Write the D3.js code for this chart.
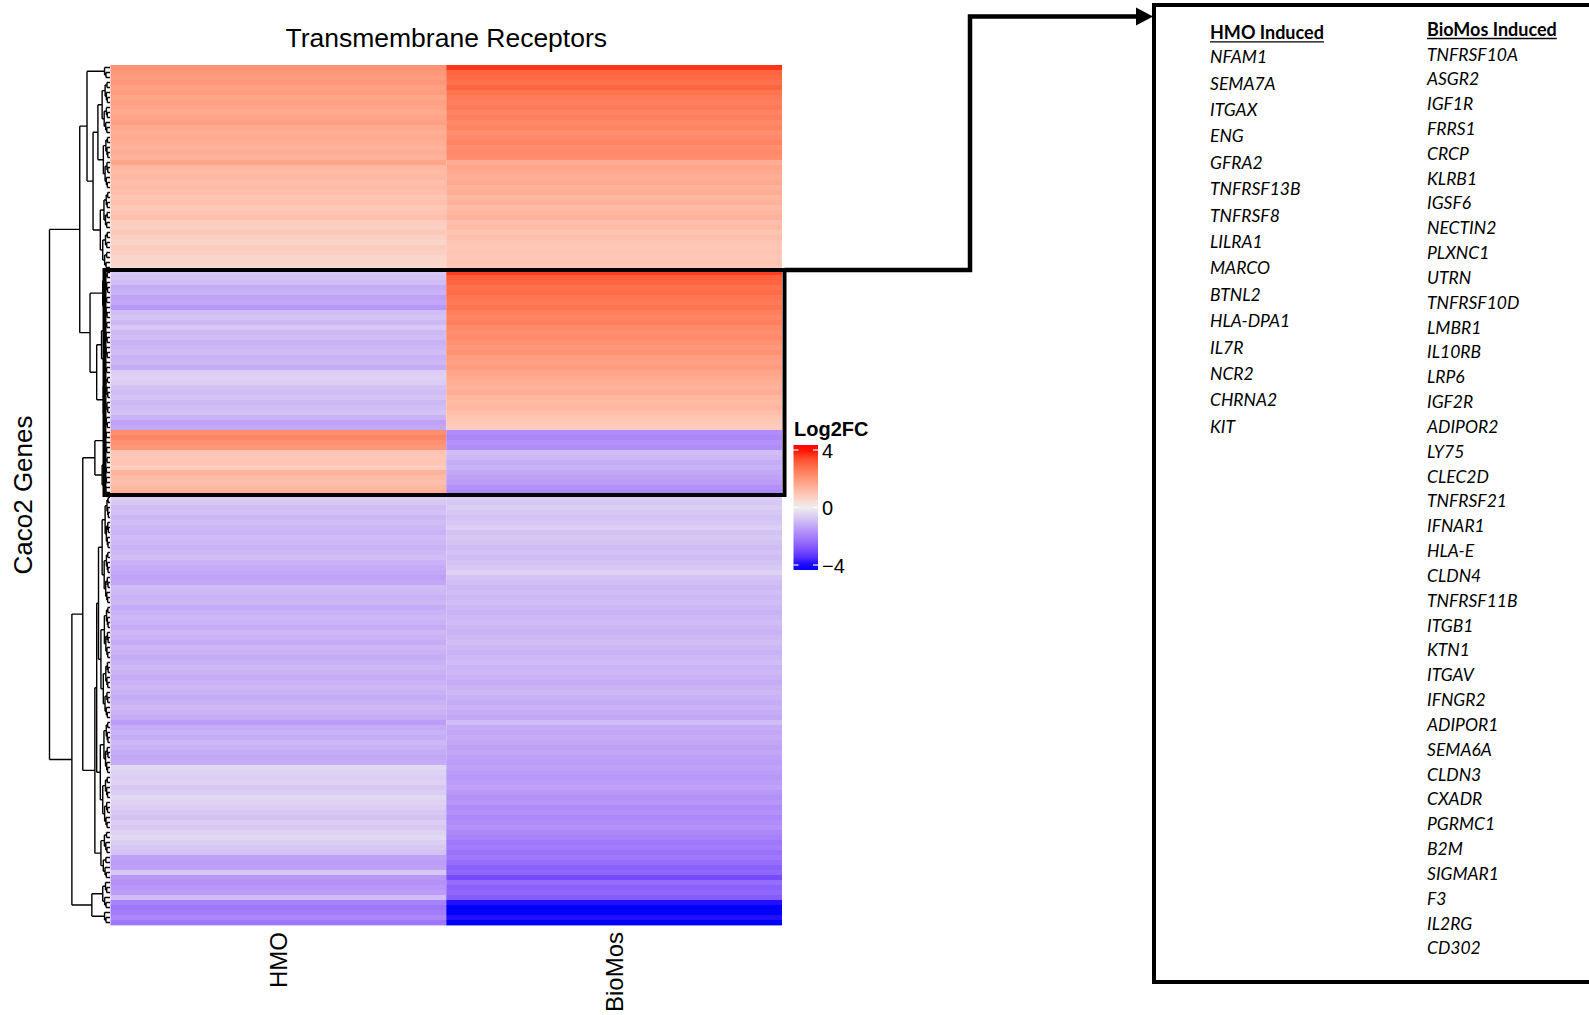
<!DOCTYPE html>
<html>
<head>
<meta charset="utf-8">
<script src="https://cdn.jsdelivr.net/npm/d3@7"></script>
<style>
  body { margin: 0; background: #fff; }
  svg { display: block; }
</style>
</head>
<body>
<div id="container"></div>
<script>
// columns of the heatmap
const samples = ['HMO', 'BioMos'];

// log2 fold change per gene row (top to bottom, dendrogram order)
const hmoValues = [
  // upper red cluster
  2.1, 2.0, 1.9, 2.0, 1.8, 1.9, 1.7,
  1.8, 1.7, 1.6, 1.7, 1.8, 1.6, 1.5, 1.6, 1.5, 1.4, 1.5, 1.4,
  1.7, 1.3, 1.2, 1.3, 1.1, 1.2, 1.1, 1.0, 1.1, 0.9, 1.0, 1.1,
  0.8, 0.7, 0.9, 0.7, 0.6, 0.8, 0.7, 0.6, 0.6, 0.5,
  // boxed: BioMos induced
  -0.7, -0.8, -0.9, -1.2, -1.1, -1.4, -1.3, -1.6, -0.9, -0.8,
  -1.0, -0.7, -1.0, -0.9, -1.1, -1.0, -0.9, -1.1, -1.0, -1.2,
  -0.6, -0.5, -0.6, -0.8, -0.9, -0.8, -1.0, -0.9, -0.8, -1.1, -1.4, -1.3,
  // boxed: HMO induced
  2.2, 2.4, 2.1, 2.0, 1.0, 0.9, 1.0, 0.8, 1.4, 1.2, 1.1, 1.3, 1.5,
  // lower purple cluster
  -0.6, -0.7, -0.9, -0.8, -1.0, -0.9, -1.0, -1.1, -0.9, -1.0,
  -1.1, -1.0, -0.9, -1.1, -1.2, -1.3, -1.4, -1.3, -0.9, -1.0,
  -1.1, -1.0, -1.2, -1.1, -1.0, -1.1, -1.2, -1.0, -1.1, -1.2,
  -1.0, -1.1, -1.2, -1.1, -1.0, -1.1, -1.2, -1.1, -1.0, -1.1,
  -1.2, -1.1, -1.0, -1.1, -1.2, -1.5, -1.2, -1.1, -1.2, -1.0,
  -1.1, -1.2, -1.3, -1.2, -0.4, -0.5, -0.6, -0.5, -0.7, -0.6,
  -0.4, -0.5, -0.6, -0.7, -0.8, -0.6, -0.7, -0.5, -0.4, -0.6,
  -0.7, -0.8, -1.4, -1.5, -1.4, -0.7, -1.6, -1.7, -1.6, -1.5,
  -0.9, -2.0, -2.2, -2.1, -1.9, -2.2
];

const biomosValues = [
  3.7, 3.0, 2.9, 2.8, 3.0, 2.7, 2.6,
  2.5, 2.6, 2.4, 2.5, 2.3, 2.4, 2.2, 2.3, 2.4, 2.2, 2.3, 2.2,
  1.5, 1.7, 1.6, 1.5, 1.6, 1.4, 1.5, 1.3, 1.4, 1.2, 1.3, 1.4,
  1.1, 1.2, 1.0, 1.1, 1.0, 0.9, 1.0, 0.9, 1.0, 0.9,
  3.6, 3.1, 3.0, 2.8, 2.9, 2.7, 2.6, 2.7, 2.5, 2.4,
  2.5, 2.3, 2.2, 2.3, 2.1, 2.0, 2.1, 1.9, 1.8, 1.9,
  1.7, 1.6, 1.5, 1.4, 1.5, 1.3, 1.2, 1.3, 1.1, 1.0, 0.9, 0.8,
  -1.8, -1.9, -1.7, -1.8, -0.9, -1.0, -1.2, -1.1, -1.3, -1.4, -1.5, -1.7, -1.9,
  -0.6, -0.7, -0.6, -0.7, -0.8, -0.7, -0.6, -0.8, -0.7, -0.8,
  -0.9, -0.8, -0.9, -0.8, -0.7, -0.5, -0.8, -0.9, -1.0, -0.9,
  -1.0, -0.9, -1.0, -1.1, -1.0, -0.9, -1.0, -1.1, -1.0, -0.9,
  -1.0, -1.1, -1.0, -0.9, -1.1, -1.0, -1.1, -1.2, -1.1, -1.0,
  -1.1, -1.2, -1.1, -1.2, -1.3, -0.9, -1.2, -1.3, -1.2, -1.3,
  -1.4, -1.3, -1.4, -1.5, -1.4, -1.5, -1.6, -1.5, -1.4, -1.6,
  -1.7, -1.6, -1.8, -1.7, -1.9, -1.8, -1.7, -1.9, -2.0, -2.2,
  -2.1, -2.3, -2.2, -2.4, -2.6, -2.5, -3.0, -2.4, -2.6, -2.5,
  -2.7, -3.9, -4.0, -4.0, -3.9, -4.0
];

// row clustering: h = merge height, c = sub-clusters, n = rows in a tight leaf cluster
const rowTree = {h: 10, c: [
  {h: 5.0, c: [
    {h: 3.8, c: [
      {h: 0.9, n: 3},
      {h: 2.8, c: [
        {h: 2.0, c: [{h: 1.3, n: 11}, {h: 1.1, n: 11}]},
        {h: 1.6, c: [{h: 1.0, n: 8}, {h: 1.2, n: 8}]}
      ]}
    ]},
    {h: 3.3, c: [
      {h: 1.2, n: 10},
      {h: 2.2, c: [{h: 1.4, n: 11}, {h: 1.1, n: 11}]}
    ]}
  ]},
  {h: 6.3, c: [
    {h: 4.5, c: [
      {h: 2.5, c: [{h: 1.0, n: 5}, {h: 1.3, n: 8}]},
      {h: 2.5, c: [
        {h: 2.2, c: [
          {h: 1.9, c: [{h: 1.3, n: 22}, {h: 1.5, n: 23}]},
          {h: 1.6, c: [{h: 1.0, n: 11}, {h: 1.2, n: 11}]}
        ]},
        {h: 1.5, n: 10}
      ]}
    ]},
    {h: 3.0, c: [{h: 1.2, n: 6}, {h: 0.9, n: 3}]}
  ]}
]};

const hmoGenes = ['NFAM1', 'SEMA7A', 'ITGAX', 'ENG', 'GFRA2', 'TNFRSF13B', 'TNFRSF8', 'LILRA1',
  'MARCO', 'BTNL2', 'HLA-DPA1', 'IL7R', 'NCR2', 'CHRNA2', 'KIT'];

const biomosGenes = ['TNFRSF10A', 'ASGR2', 'IGF1R', 'FRRS1', 'CRCP', 'KLRB1', 'IGSF6', 'NECTIN2',
  'PLXNC1', 'UTRN', 'TNFRSF10D', 'LMBR1', 'IL10RB', 'LRP6', 'IGF2R', 'ADIPOR2', 'LY75', 'CLEC2D',
  'TNFRSF21', 'IFNAR1', 'HLA-E', 'CLDN4', 'TNFRSF11B', 'ITGB1', 'KTN1', 'ITGAV', 'IFNGR2',
  'ADIPOR1', 'SEMA6A', 'CLDN3', 'CXADR', 'PGRMC1', 'B2M', 'SIGMAR1', 'F3', 'IL2RG', 'CD302'];

const legendTicks = [4, 0, -4];

const width = 1589;
const height = 1015;
const font = "'Liberation Sans', Arial, sans-serif";
const listFont = "Lato, 'Open Sans', sans-serif";

const svg = d3.select('#container').append('svg')
  .attr('width', width)
  .attr('height', height);

const color = d3.scaleLinear()
  .domain([-4, 0, 4])
  .range(['#0000ff', '#eeeeee', '#ff0000'])
  .interpolate(d3.interpolateLab)
  .clamp(true);

const rows = d3.range(hmoValues.length);
const y = d3.scaleBand().domain(rows).range([65, 925]);
const x = d3.scaleBand().domain(samples).range([110.5, 782]);

// heatmap cells
const matrix = rows.map(i => [hmoValues[i], biomosValues[i]]);
const rowG = svg.append('g').selectAll('.row')
  .data(matrix)
  .enter().append('g')
  .attr('class', 'row')
  .attr('transform', (d, i) => 'translate(0,' + y(i) + ')');

rowG.selectAll('rect')
  .data(d => d)
  .enter().append('rect')
  .attr('x', (d, j) => x(samples[j]))
  .attr('width', x.bandwidth())
  .attr('height', y.bandwidth() + 0.4)
  .attr('fill', d => color(d));

// title
svg.append('text')
  .attr('x', (x.range()[0] + x.range()[1]) / 2)
  .attr('y', 47)
  .attr('text-anchor', 'middle')
  .style('font-family', font)
  .style('font-size', '26.5px')
  .text('Transmembrane Receptors');

// column labels
svg.selectAll('.col-label')
  .data(samples)
  .enter().append('text')
  .attr('class', 'col-label')
  .attr('transform', d => 'translate(' + (x(d) + x.bandwidth() / 2 + 8.5) + ',932) rotate(-90)')
  .attr('text-anchor', 'end')
  .style('font-family', font)
  .style('font-size', '24px')
  .text(d => d);

// row title
svg.append('text')
  .attr('transform', 'translate(32,495) rotate(-90)')
  .attr('text-anchor', 'middle')
  .style('font-family', font)
  .style('font-size', '26px')
  .text('Caco2 Genes');

// dendrogram
function splitGroup(n, h) {
  if (n === 1) return {h: 0};
  const k = Math.floor(n / 2);
  return {h, c: [splitGroup(k, h * 0.62), splitGroup(n - k, h * 0.74)]};
}
function expand(node) {
  if (node.c) return {h: node.h, c: node.c.map(expand)};
  return splitGroup(node.n, node.h);
}

const root = d3.hierarchy(expand(rowTree), d => d.c);
const hx = d3.scaleLinear().domain([0, root.data.h]).range([110, 49.5]);

root.leaves().forEach((leaf, i) => { leaf.py = y(i) + y.bandwidth() / 2; });
root.eachAfter(node => {
  if (node.children) node.py = d3.mean(node.children, c => c.py);
  node.px = hx(node.data.h);
});

const dendro = d3.path();
root.each(node => {
  if (!node.children) return;
  const ys = node.children.map(c => c.py);
  dendro.moveTo(node.px, d3.min(ys));
  dendro.lineTo(node.px, d3.max(ys));
  node.children.forEach(c => {
    dendro.moveTo(node.px, c.py);
    dendro.lineTo(c.px, c.py);
  });
});

svg.append('path')
  .attr('d', dendro.toString())
  .attr('fill', 'none')
  .attr('stroke', '#000')
  .attr('stroke-width', 1.4);

// highlight box around the two contrasting clusters
const boxTop = y(41);
const boxBottom = y(85) + y.bandwidth();
svg.append('rect')
  .attr('x', 104.5)
  .attr('y', boxTop)
  .attr('width', 784.5 - 104.5)
  .attr('height', boxBottom - boxTop)
  .attr('fill', 'none')
  .attr('stroke', '#000')
  .attr('stroke-width', 4);

// connector arrow to the gene list
svg.append('path')
  .attr('d', 'M784.5,' + boxTop + ' H970 V16.5 H1138')
  .attr('fill', 'none')
  .attr('stroke', '#000')
  .attr('stroke-width', 4.5);

svg.append('path')
  .attr('d', 'M1136,7.5 L1153,16.5 L1136,25.5 Z')
  .attr('fill', '#000');

// gene list panel
svg.append('rect')
  .attr('x', 1154)
  .attr('y', 5)
  .attr('width', 460)
  .attr('height', 977)
  .attr('fill', 'none')
  .attr('stroke', '#000')
  .attr('stroke-width', 4);

function header(xPos, yPos, label) {
  const t = svg.append('text')
    .attr('x', xPos)
    .attr('y', yPos)
    .style('font-family', listFont)
    .style('font-weight', 'bold')
    .style('font-size', '18px')
    .text(label);
  const w = t.node().getComputedTextLength();
  svg.append('line')
    .attr('x1', xPos).attr('x2', xPos + w)
    .attr('y1', yPos + 2.5).attr('y2', yPos + 2.5)
    .attr('stroke', '#000')
    .attr('stroke-width', 1.3);
}

header(1210, 39.3, 'HMO Induced');
header(1427, 36, 'BioMos Induced');

svg.append('g').selectAll('text')
  .data(hmoGenes)
  .enter().append('text')
  .attr('x', 1210)
  .attr('y', (d, i) => 63.2 + 26.4 * i)
  .style('font-family', listFont)
  .style('font-style', 'italic')
  .style('font-size', '17.5px')
  .text(d => d);

svg.append('g').selectAll('text')
  .data(biomosGenes)
  .enter().append('text')
  .attr('x', 1427)
  .attr('y', (d, i) => 60.5 + 24.83 * i)
  .style('font-family', listFont)
  .style('font-style', 'italic')
  .style('font-size', '17.5px')
  .text(d => d);

// colour legend
const legendScale = d3.scaleLinear().domain([-4, 4]).range([565, 450]);
const barTop = 445;
const barBottom = 570;
const defs = svg.append('defs');
const grad = defs.append('linearGradient')
  .attr('id', 'log2fc')
  .attr('x1', 0).attr('x2', 0)
  .attr('y1', 0).attr('y2', 1);

d3.range(0, 1.0001, 0.05).forEach(t => {
  const v = legendScale.invert(barTop + t * (barBottom - barTop));
  grad.append('stop')
    .attr('offset', t)
    .attr('stop-color', color(v));
});

svg.append('text')
  .attr('x', 794)
  .attr('y', 435.5)
  .style('font-family', font)
  .style('font-weight', 'bold')
  .style('font-size', '20px')
  .text('Log2FC');

svg.append('rect')
  .attr('x', 793.5)
  .attr('y', barTop)
  .attr('width', 24.5)
  .attr('height', barBottom - barTop)
  .attr('fill', 'url(#log2fc)');

const tickG = svg.append('g').selectAll('.tick')
  .data(legendTicks)
  .enter().append('g')
  .attr('transform', d => 'translate(0,' + legendScale(d) + ')');

tickG.append('line')
  .attr('x1', 793.5).attr('x2', 798.5)
  .attr('stroke', '#fff').attr('stroke-width', 1.2);
tickG.append('line')
  .attr('x1', 813).attr('x2', 818)
  .attr('stroke', '#fff').attr('stroke-width', 1.2);
tickG.append('text')
  .attr('x', 822)
  .attr('y', 7.5)
  .style('font-family', font)
  .style('font-size', '20px')
  .text(d => d < 0 ? '\u2212' + Math.abs(d) : d);
</script>
</body>
</html>
